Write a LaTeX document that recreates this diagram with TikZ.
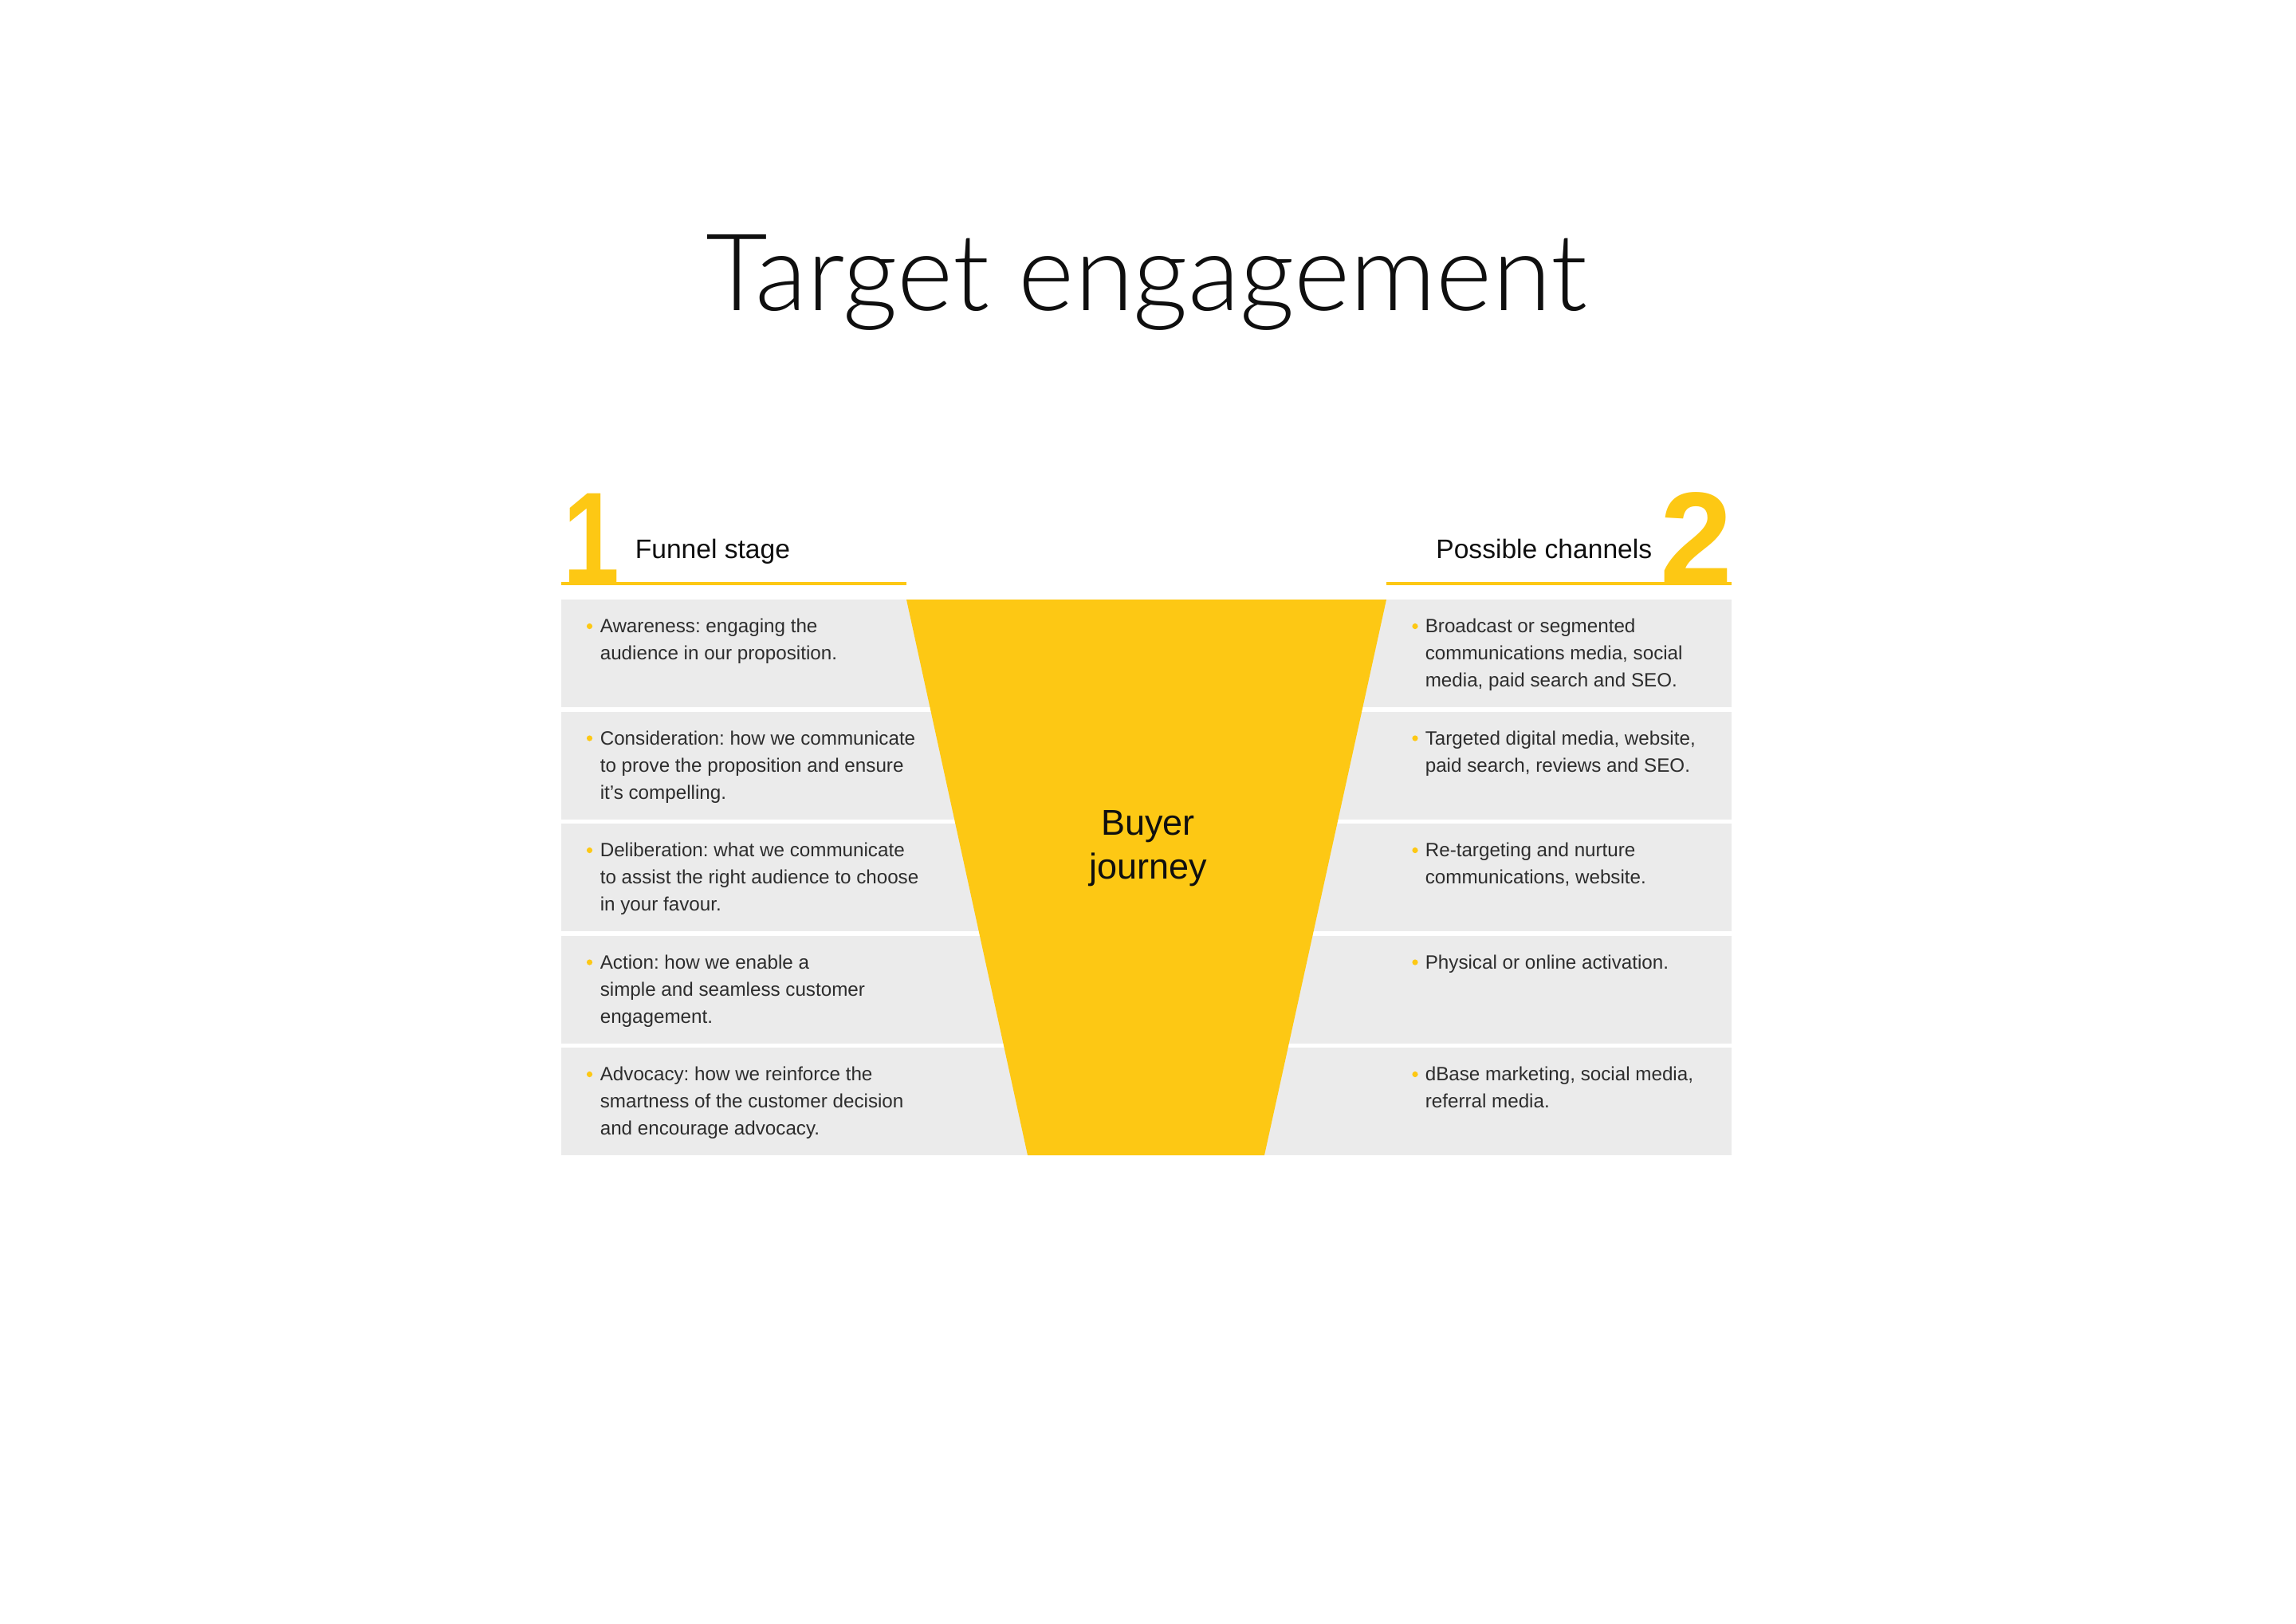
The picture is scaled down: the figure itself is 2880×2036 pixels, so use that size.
\documentclass[tikz,border=0pt]{standalone}
\usepackage{fontspec}
\setmainfont{Liberation Sans}
\newfontfamily\titlefont{Lato Light}
\definecolor{ey}{RGB}{253,200,20}
\definecolor{rowgrey}{RGB}{235,235,235}
\definecolor{bodygrey}{RGB}{45,45,45}
\definecolor{inkblack}{RGB}{15,15,15}
\frenchspacing
\begin{document}
\frenchspacing
\begin{tikzpicture}[x=0.25pt,y=-0.25pt,
  rowbox/.style={fill=rowgrey},
  bodytxt/.style={anchor=north west, inner sep=0pt, align=left, yshift=5pt,
    font=\fontsize{6.05pt}{8.5pt}\selectfont\frenchspacing, text=bodygrey},
  bul/.style={circle, fill=ey, inner sep=0pt, minimum size=1.8pt},
  headtxt/.style={inner sep=0pt, font=\fontsize{8.4pt}{10pt}\selectfont, text=inkblack},
  bignum/.style={inner sep=0pt, anchor=base, text=ey, font=\fontsize{40.8pt}{41pt}\selectfont\bfseries},
  headline/.style={draw=ey, line width=1pt}
]
\useasboundingbox (0,0) rectangle (2880,2036);
\fill[white] (0,0) rectangle (2880,2036);

% title
\node[anchor=base, inner sep=0pt, text=inkblack] (title) at (1438,389)
  {\titlefont\fontsize{33.6pt}{40pt}\selectfont Target engagement};

% grey rows
\foreach \t in {752,892.5,1033,1173.5,1314}
  \fill[rowbox] (704,\t) rectangle (2172,\t+135);

% funnel
\fill[ey] (1137,752) -- (1739,752) -- (1586,1449) -- (1289,1449) -- cycle;

% header lines
\draw[headline] (704,731.5) -- (1137,731.5);
\draw[headline] (1739,731.5) -- (2172,731.5);

% big numbers
\node[bignum] (n1) at (742,731) {\scalebox{0.78}[1]{1}};
\node[bignum] (n2) at (2128,731) {2};

% headers
\node[headtxt, anchor=base west] (h1) at (796,700) {Funnel stage};
\node[headtxt, anchor=base east] (h2) at (2073,700) {Possible channels};

% buyer journey
\node[anchor=north, align=center, inner sep=0pt, yshift=9pt, text=inkblack,
  font=\fontsize{11.25pt}{13.75pt}\selectfont] (bj) at (1440,1046.7)
  {\rule{0pt}{9pt}Buyer\\journey};

% left column
\node[bul] (lb1) at (739.5,785.5) {};
\node[bodytxt] (l1) at (752,793) {\rule{0pt}{5pt}Awareness: engaging the\\audience in our proposition.};
\node[bul] (lb2) at (739.5,926) {};
\node[bodytxt] (l2) at (752,933.5) {\rule{0pt}{5pt}Consideration: how we communicate\\to prove the proposition and ensure\\it’s compelling.};
\node[bul] (lb3) at (739.5,1066.5) {};
\node[bodytxt] (l3) at (752,1074) {\rule{0pt}{5pt}Deliberation: what we communicate\\to assist the right audience to choose\\in your favour.};
\node[bul] (lb4) at (739.5,1207) {};
\node[bodytxt] (l4) at (752,1214.5) {\rule{0pt}{5pt}Action: how we enable a\\simple and seamless customer\\engagement.};
\node[bul] (lb5) at (739.5,1347.5) {};
\node[bodytxt] (l5) at (752,1355) {\rule{0pt}{5pt}Advocacy: how we reinforce the\\smartness of the customer decision\\and encourage advocacy.};

% right column
\node[bul] (rb1) at (1775,785.5) {};
\node[bodytxt] (r1) at (1787,793) {\rule{0pt}{5pt}Broadcast or segmented\\communications media, social\\media, paid search and SEO.};
\node[bul] (rb2) at (1775,926) {};
\node[bodytxt] (r2) at (1787,933.5) {\rule{0pt}{5pt}Targeted digital media, website,\\paid search, reviews and SEO.};
\node[bul] (rb3) at (1775,1066.5) {};
\node[bodytxt] (r3) at (1787,1074) {\rule{0pt}{5pt}Re-targeting and nurture\\communications, website.};
\node[bul] (rb4) at (1775,1207) {};
\node[bodytxt] (r4) at (1787,1214.5) {\rule{0pt}{5pt}Physical or online activation.};
\node[bul] (rb5) at (1775,1347.5) {};
\node[bodytxt] (r5) at (1787,1355) {\rule{0pt}{5pt}dBase marketing, social media,\\referral media.};
\end{tikzpicture}
\end{document}
